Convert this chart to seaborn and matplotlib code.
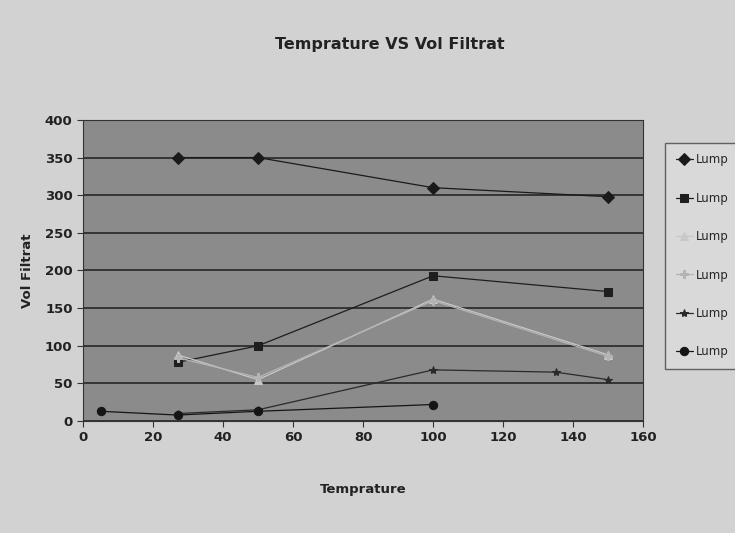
import matplotlib
matplotlib.use("Agg")
import matplotlib.pyplot as plt
import seaborn as sns
import pandas as pd

# Data
series_names = ["Lump 1", "Lump 2", "Lump 3", "Lump 4", "Lump 5", "Lump 6"]
temp_1 = [27, 50, 100, 150]
vol_1 = [350, 350, 310, 298]
temp_2 = [27, 50, 100, 150]
vol_2 = [78, 100, 193, 172]
temp_3 = [27, 50, 100, 150]
vol_3 = [88, 55, 162, 88]
temp_4 = [27, 50, 100, 150]
vol_4 = [84, 58, 160, 86]
temp_5 = [27, 50, 100, 135, 150]
vol_5 = [10, 15, 68, 65, 55]
temp_6 = [5, 27, 50, 100]
vol_6 = [13, 8, 13, 22]
legend_labels = ["Lump", "Lump", "Lump", "Lump", "Lump", "Lump"]

temps = [temp_1, temp_2, temp_3, temp_4, temp_5, temp_6]
vols = [vol_1, vol_2, vol_3, vol_4, vol_5, vol_6]
rows = []
for name, t, v in zip(series_names, temps, vols):
    for a, b in zip(t, v):
        rows.append({"Temprature": a, "Vol Filtrat": b, "series": name})
df = pd.DataFrame(rows)

sns.set_style("white")
plt.rcParams["font.family"] = ["DejaVu Sans"]

fig = plt.figure(figsize=(7.35, 5.33), dpi=100)
fig.patch.set_facecolor("#d2d2d2")
ax = fig.add_axes([0.113, 0.21, 0.762, 0.565])
ax.set_facecolor("#8b8b8b")

palette = ["#1a1a1a", "#1e1e1e", "#c8c8c8", "#b4b4b4", "#2a2a2a", "#151515"]
markers = ["D", "s", "^", "P", "*", "o"]
sns.lineplot(data=df, x="Temprature", y="Vol Filtrat", hue="series", style="series",
             markers=markers, dashes=False, palette=palette, markersize=6,
             linewidth=0.9, ax=ax, legend=True, sort=False)
for ln in ax.lines:
    ln.set_markeredgecolor(ln.get_color())

ax.set_xlim(0, 160)
ax.set_ylim(0, 400)
ax.set_xticks(range(0, 161, 20))
ax.set_yticks(range(0, 401, 50))
ax.grid(axis="y", color="#2e2e2e", linewidth=1.3)
ax.grid(axis="x", visible=False)
for s in ax.spines.values():
    s.set_color("#333333")
ax.tick_params(axis="both", direction="out", length=4, color="#333333",
               labelsize=9.5, labelcolor="#222222", bottom=True, left=True)
for lab in ax.get_xticklabels() + ax.get_yticklabels():
    lab.set_fontweight("bold")
ax.set_xlabel("Temprature", fontsize=9.5, fontweight="bold", color="#222222", labelpad=28)
ax.set_ylabel("Vol Filtrat", fontsize=9.5, fontweight="bold", color="#222222", labelpad=8)
fig.suptitle("Temprature VS Vol Filtrat", x=0.53, y=0.93, fontsize=11.5,
             fontweight="bold", color="#222222")

handles, _ = ax.get_legend_handles_labels()
for h in handles:
    h.set_markeredgecolor(h.get_color())
ax.legend(handles, legend_labels, loc="upper left", bbox_to_anchor=(1.039, 0.924),
          frameon=True, fontsize=8.5, labelspacing=2.15, handlelength=1.5,
          handletextpad=0.25, borderpad=0.9, borderaxespad=0,
          facecolor="#dcdcdc", edgecolor="#444444", fancybox=False)

fig.savefig("out.png", dpi=100, facecolor=fig.get_facecolor())
